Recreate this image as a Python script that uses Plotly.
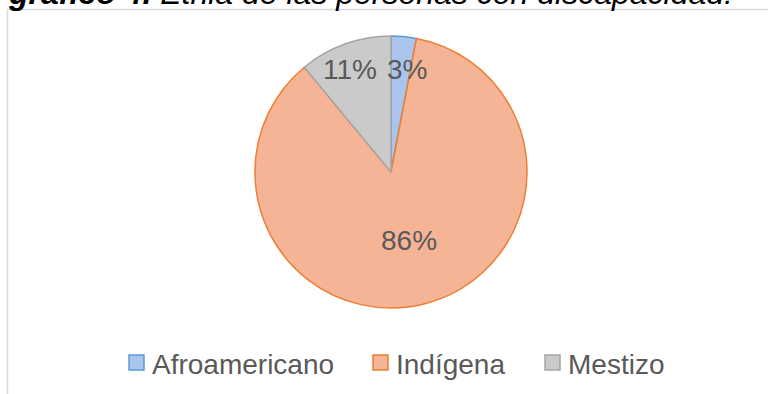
import plotly.graph_objects as go

# Etnia de las personas con discapacidad (porcentaje)
categorias = ["Afroamericano", "Indígena", "Mestizo"]
porcentajes = [3, 86, 11]
colores_relleno = ["#A9C5EB", "#F6B496", "#CACACA"]
colores_borde = ["#5B9BD5", "#ED7D31", "#A5A5A5"]

W, H = 768, 394
cx, cy, r = 391, 172, 136  # centre and radius of the pie, in pixels
FONT = "Liberation Sans, Arial"


def px_x(x):
    return x / W


def px_y(y):
    return 1 - y / H


fig = go.Figure(
    go.Pie(
        labels=categorias,
        values=porcentajes,
        sort=False,
        direction="clockwise",
        rotation=0,
        textinfo="none",
        hoverinfo="label+percent",
        marker=dict(colors=colores_relleno, line=dict(color=colores_borde, width=1.5)),
        domain=dict(x=[px_x(cx - r), px_x(cx + r)], y=[px_y(cy + r), px_y(cy - r)]),
    )
)

annotations = []
shapes = []

# percentage labels on the slices
label_pos = [(407, 69), (409, 240), (350, 69)]
for v, (lx, ly) in zip(porcentajes, label_pos):
    annotations.append(
        dict(
            text=f"{v}%",
            x=px_x(lx), y=px_y(ly), xref="paper", yref="paper",
            xanchor="center", yanchor="middle", showarrow=False,
            font=dict(family=FONT, size=28, color="#595959"),
        )
    )

# legend row: colour swatch followed by the category name
swatch_left = [129, 373, 545]
legend_mid_y = 362.5
sw = 15
for cat, fill, edge, sx in zip(categorias, colores_relleno, colores_borde, swatch_left):
    shapes.append(
        dict(
            type="rect", xref="paper", yref="paper",
            x0=px_x(sx), x1=px_x(sx + sw),
            y0=px_y(legend_mid_y + sw / 2), y1=px_y(legend_mid_y - sw / 2),
            fillcolor=fill, line=dict(color=edge, width=1.5),
        )
    )
    annotations.append(
        dict(
            text=cat,
            x=px_x(sx + sw + 6), y=px_y(legend_mid_y + 1.5), xref="paper", yref="paper",
            xanchor="left", yanchor="middle", showarrow=False,
            font=dict(family=FONT, size=28, color="#595959"),
        )
    )

# caption above the chart frame
annotations.append(
    dict(
        text="<i><b>gráfico 4.</b> Etnia de las personas con discapacidad.</i>",
        x=px_x(6), y=1, xref="paper", yref="paper",
        xanchor="left", yanchor="bottom", yshift=-13, showarrow=False,
        font=dict(family=FONT, size=32, color="#000000"),
    )
)

# chart frame (continues past the right and bottom edges)
shapes.append(
    dict(
        type="rect", xref="paper", yref="paper",
        x0=px_x(7.5), x1=1.2, y0=-0.2, y1=px_y(9.5),
        line=dict(color="#D9D9D9", width=1.5), fillcolor="rgba(0,0,0,0)",
        layer="below",
    )
)

fig.update_layout(
    width=W, height=H,
    margin=dict(l=0, r=0, t=0, b=0),
    paper_bgcolor="#FFFFFF",
    plot_bgcolor="#FFFFFF",
    showlegend=False,
    annotations=annotations,
    shapes=shapes,
)

fig.write_html("out.html")
